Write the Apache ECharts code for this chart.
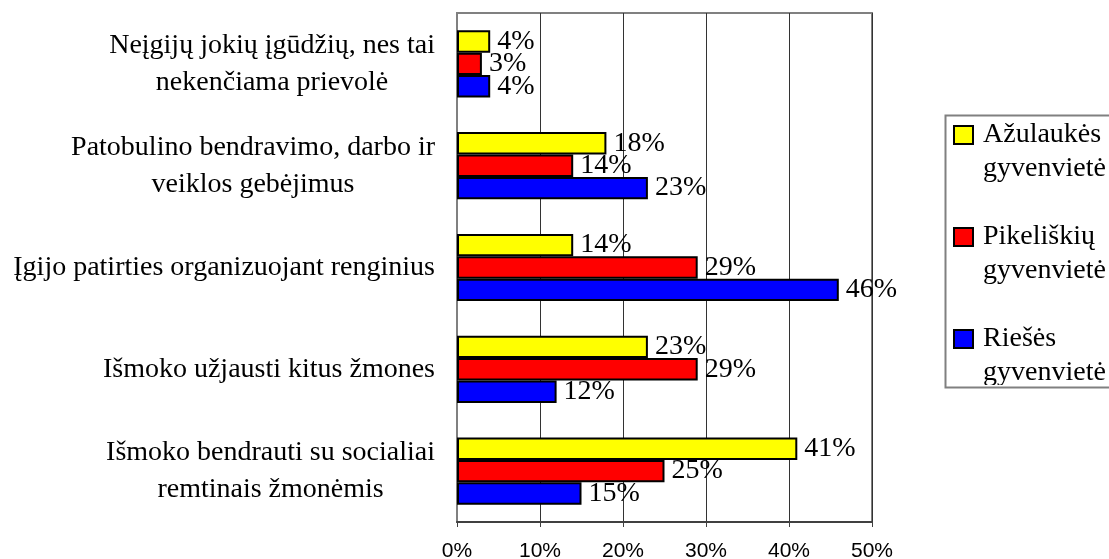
<!DOCTYPE html>
<html>
<head>
<meta charset="utf-8">
<script src="https://cdn.jsdelivr.net/npm/echarts@6/dist/echarts.min.js"></script>
<style>
  html, body { margin: 0; padding: 0; background: #fff; }
  #chart { width: 1109px; height: 559px; }
</style>
</head>
<body>
<div id="chart"></div>
<script>
// Categories, top to bottom
const categories = [
  'Neįgijų jokių įgūdžių, nes tai\nnekenčiama prievolė',
  'Patobulino bendravimo, darbo ir\nveiklos gebėjimus',
  'Įgijo patirties organizuojant renginius',
  'Išmoko užjausti kitus žmones',
  'Išmoko bendrauti su socialiai\nremtinais žmonėmis'
];
const seriesNames = [
  'Ažulaukės\ngyvenvietė',
  'Pikeliškių\ngyvenvietė',
  'Riešės\ngyvenvietė'
];
const azulaukes = [4, 18, 14, 23, 41];
const pikeliskiu = [3, 14, 29, 29, 25];
const rieses = [4, 23, 46, 12, 15];
const xTicks = [0, 10, 20, 30, 40, 50];

const colors = ['#FFFF00', '#FF0000', '#0000FF'];
const values = [azulaukes, pikeliskiu, rieses];

const chart = echarts.init(document.getElementById('chart'), null, { renderer: 'canvas' });

const serif = 'Liberation Serif';

const series = seriesNames.map((name, i) => ({
  name: name,
  type: 'bar',
  data: values[i],
  barGap: '0%',
  barCategoryGap: '34%',
  itemStyle: { color: colors[i], borderColor: '#000', borderWidth: 2 },
  label: {
    show: true,
    position: 'right',
    distance: 7,
    formatter: '{c}%',
    color: '#000',
    fontFamily: serif,
    fontSize: 28
  }
}));

chart.setOption({
  animation: false,
  backgroundColor: '#fff',
  grid: {
    left: 457, right: 237, top: 13, bottom: 37,
    outerBoundsMode: 'none',
    containLabel: false,
    show: true, borderColor: '#808080', borderWidth: 2
  },
  xAxis: {
    type: 'value',
    min: xTicks[0], max: xTicks[xTicks.length - 1], interval: 10,
    axisLine: { show: true, lineStyle: { color: '#404040', width: 2 } },
    axisTick: { show: true, length: 5, lineStyle: { color: '#404040', width: 1 } },
    axisLabel: {
      formatter: '{value}%', color: '#000', fontFamily: 'Liberation Sans',
      fontSize: 21, margin: 19
    },
    splitLine: { show: true, lineStyle: { color: '#333', width: 1 } }
  },
  yAxis: {
    type: 'category',
    inverse: true,
    data: categories,
    axisLine: { show: true, lineStyle: { color: '#808080', width: 2 } },
    axisTick: { show: false },
    axisLabel: {
      margin: 22,
      align: 'right',
      formatter: v => v.split('\n').map(s => '{c|' + s + '}').join('\n'),
      rich: {
        c: { fontFamily: serif, fontSize: 28, lineHeight: 37, align: 'center', color: '#000' }
      }
    }
  },
  legend: {
    orient: 'vertical',
    left: 953, top: 84,
    padding: 0,
    itemGap: 0,
    itemWidth: 19, itemHeight: 18,
    icon: 'rect',
    itemStyle: { borderColor: '#000', borderWidth: 2 },
    formatter: n => '\n' + n,
    textStyle: { fontFamily: serif, fontSize: 28, lineHeight: 34, color: '#000', padding: [0, 0, 0, 5] },
    data: seriesNames
  },
  graphic: [{
    type: 'rect',
    left: 944, top: 385,
    shape: { width: 170, height: 20 },
    style: { fill: '#fff', stroke: 'none' },
    z: 99
  }, {
    type: 'rect',
    left: 943, top: 113,
    shape: { width: 200, height: 272 },
    style: { fill: 'none', stroke: '#808080', lineWidth: 2 },
    z: 100
  }],
  series: series
});
</script>
</body>
</html>
